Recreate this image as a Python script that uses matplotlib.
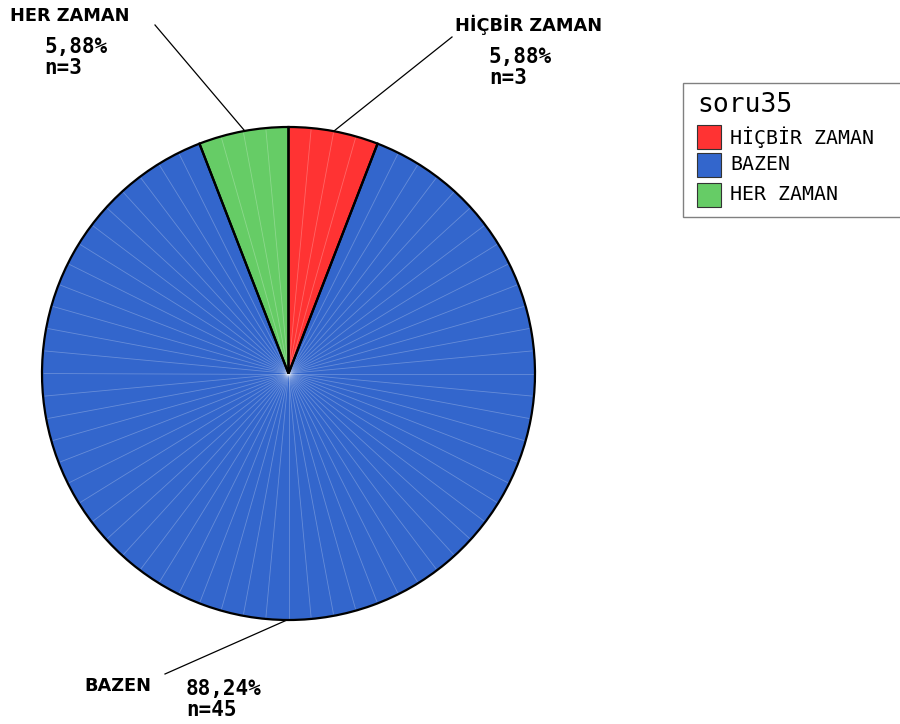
import numpy as np
import matplotlib
matplotlib.use("Agg")
import matplotlib.pyplot as plt
from matplotlib.patches import Rectangle, Wedge

# Data
categories = ["HİÇBİR ZAMAN", "BAZEN", "HER ZAMAN"]
counts = [3, 45, 3]
percent_labels = ["5,88%", "88,24%", "5,88%"]
colors = ["#ff3333", "#3366cc", "#66cc66"]
legend_title = "soru35"

W, H = 900, 724
fig = plt.figure(figsize=(W / 100, H / 100), dpi=100)
ax = fig.add_axes([0, 0, 1, 1])


def py(y):
    """Convert a top-down pixel row into the axes' y coordinate."""
    return H - y


cx, cy, R = 288.5, py(373.5), 246.5

wedges, _ = ax.pie(
    counts, colors=colors, startangle=90, counterclock=False,
    center=(cx, cy), radius=R, frame=True,
    wedgeprops=dict(edgecolor="none", linewidth=0),
)
ax.set_xlim(0, W)
ax.set_ylim(0, H)
ax.set_aspect("equal")
ax.axis("off")

# Faint radial seams across each slice
for w in wedges:
    w.set_zorder(1)
    t1, t2 = w.theta1, w.theta2
    span = t2 - t1
    nseg = max(1, int(round(span / 5.3)))
    for k in range(1, nseg):
        a = np.deg2rad(t1 + span * k / nseg)
        ax.plot([cx, cx + R * 0.995 * np.cos(a)], [cy, cy + R * 0.995 * np.sin(a)],
                color="white", alpha=0.25, lw=0.6, zorder=2,
                solid_capstyle="butt")

# Slice outlines above the seams
for w in wedges:
    ax.add_patch(Wedge(w.center, w.r, w.theta1, w.theta2, facecolor="none",
                       edgecolor="black", linewidth=1.6, zorder=3))

# Leader lines
ax.plot([334, 452], [py(131), py(37)], color="black", lw=0.9, zorder=4)
ax.plot([244, 155], [py(130), py(25)], color="black", lw=0.9, zorder=4)
ax.plot([287, 165], [py(620), py(674)], color="black", lw=0.9, zorder=4)

name_font = dict(family="DejaVu Sans", weight="bold", size=12.8)
val_font = dict(family="DejaVu Sans Mono", weight="bold", size=15)

# Slice labels: name, percent, count
label_pos = [
    ((455, 25), (489, 57), (489, 78)),
    ((84, 686), (186, 689), (186, 710)),
    ((10, 16), (44, 47), (44, 68)),
]
for cat, n, pct, (pn, pp, pc) in zip(categories, counts, percent_labels, label_pos):
    ax.text(pn[0], py(pn[1]), cat, ha="left", va="center", **name_font)
    ax.text(pp[0], py(pp[1]), pct, ha="left", va="center", **val_font)
    ax.text(pc[0], py(pc[1]), f"n={n}", ha="left", va="center", **val_font)

# Legend
ax.add_patch(Rectangle((683, py(217)), 230, 134, facecolor="white",
                       edgecolor="#808080", lw=1.0, zorder=5, clip_on=False))
ax.text(697, py(105), legend_title, ha="left", va="center",
        family="DejaVu Sans Mono", size=19, zorder=6)
sw_y = [137, 165, 195]
for cat, col, yy in zip(categories, colors, sw_y):
    ax.add_patch(Rectangle((697, py(yy + 12)), 24, 24, facecolor=col,
                           edgecolor="#333333", lw=0.8, zorder=6))
    ax.text(730, py(yy), cat, ha="left", va="center",
            family="DejaVu Sans Mono", size=14.3, zorder=6)

fig.savefig("out.png", dpi=100)
